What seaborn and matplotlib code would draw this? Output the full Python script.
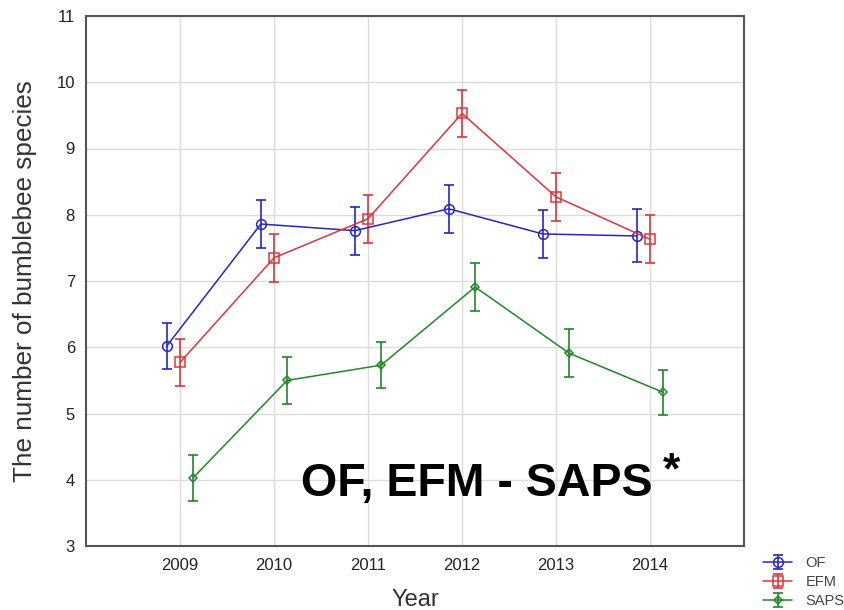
import matplotlib
matplotlib.use("Agg")
import matplotlib.pyplot as plt
from matplotlib.lines import Line2D
import seaborn as sns
import pandas as pd

# ---- data ----
years = [2009, 2010, 2011, 2012, 2013, 2014]
groups = ["OF", "EFM", "SAPS"]
of_mean = [6.02, 7.86, 7.76, 8.09, 7.71, 7.68]
of_err = [0.35, 0.36, 0.36, 0.36, 0.36, 0.40]
efm_mean = [5.77, 7.35, 7.94, 9.53, 8.27, 7.63]
efm_err = [0.36, 0.36, 0.36, 0.36, 0.36, 0.36]
saps_mean = [4.03, 5.50, 5.73, 6.91, 5.91, 5.32]
saps_err = [0.35, 0.36, 0.35, 0.36, 0.36, 0.34]
y_ticks = [3, 4, 5, 6, 7, 8, 9, 10, 11]
annotation = "OF, EFM - SAPS"

# ---- styling ----
colors = {"OF": "#2626c8", "EFM": "#e0353a", "SAPS": "#23862a"}
markers = {"OF": "o", "EFM": "s", "SAPS": "D"}
msizes = {"OF": 7, "EFM": 6.5, "SAPS": 4.5}
dodge = {"OF": -0.14, "EFM": 0.0, "SAPS": 0.14}

means = {"OF": of_mean, "EFM": efm_mean, "SAPS": saps_mean}
errs = {"OF": of_err, "EFM": efm_err, "SAPS": saps_err}

rows = []
for g in groups:
    for yr, m, e in zip(years, means[g], errs[g]):
        rows.append({"group": g, "year": yr, "pos": yr + dodge[g], "mean": m, "err": e})
df = pd.DataFrame(rows)

sns.set_theme(style="whitegrid")
plt.rcParams["font.family"] = ["Liberation Sans", "DejaVu Sans"]

fig = plt.figure(figsize=(8.45, 6.1), dpi=100)
ax = fig.add_axes([86 / 845, 1 - 546 / 610, (744 - 86) / 845, (546 - 16) / 610])

handles = []
for g in groups:
    sub = df[df["group"] == g]
    sns.lineplot(data=sub, x="pos", y="mean", ax=ax, color=colors[g], lw=1.1,
                 marker=markers[g], markersize=msizes[g], markerfacecolor="none",
                 markeredgecolor=colors[g], markeredgewidth=1.1, legend=False,
                 zorder=3)
    ec = ax.errorbar(sub["pos"], sub["mean"], yerr=sub["err"], fmt="none",
                     ecolor=colors[g], elinewidth=1.2, capsize=3.8, capthick=1.2,
                     zorder=2)
    proxy = Line2D([], [], color=colors[g], lw=1.1, marker=markers[g],
                   markersize=msizes[g], markerfacecolor="none",
                   markeredgecolor=colors[g], markeredgewidth=1.1)
    handles.append((ec, proxy))

ax.set_xlim(2008, 2015)
ax.set_ylim(3, 11)
ax.set_xticks(years)
ax.set_xticklabels([str(y) for y in years])
ax.set_yticks(y_ticks)
ax.grid(True, color="#dcdcdc", lw=1.0)
for s in ax.spines.values():
    s.set_color("#555555")
    s.set_linewidth(1.5)
ax.tick_params(axis="both", direction="in", length=3, width=1, color="#444444",
               labelsize=12, labelcolor="#222222", pad=9)
ax.tick_params(axis="y", pad=8)

ax.set_xlabel("Year", fontsize=17, color="#333333", labelpad=11)
ax.set_ylabel("The number of bumblebee species", fontsize=18.8, color="#333333", labelpad=14)

ax.text(0.327, 0.094, annotation, transform=ax.transAxes, fontsize=33.5,
        fontweight="bold", color="black", ha="left", va="baseline")
ax.text(0.877, 0.118, "*", transform=ax.transAxes, fontsize=32,
        fontweight="bold", color="black", ha="left", va="baseline")

fig.legend(handles, groups, loc="upper left", bbox_to_anchor=(756 / 845, 1 - 549 / 610),
           frameon=False, fontsize=10.5, handlelength=2.0, handletextpad=0.9,
           labelspacing=0.33, borderpad=0, labelcolor="#444444")

fig.savefig("out.png", dpi=100)
